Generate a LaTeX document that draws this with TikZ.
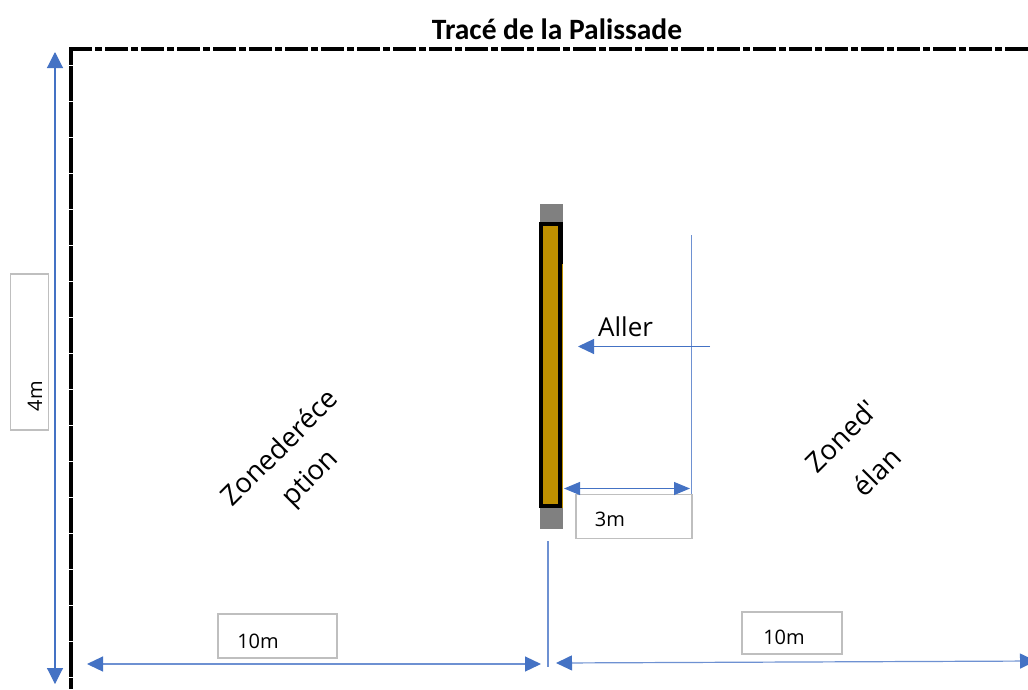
\documentclass[tikz,border=0pt]{standalone}
\usepackage{fontspec}
\setmainfont{Carlito}
\newfontfamily\uifont{Open Sans}
\usetikzlibrary{arrows.meta}
\definecolor{dimblue}{RGB}{68,114,196}
\definecolor{lineblue}{RGB}{110,145,210}
\definecolor{boxgray}{RGB}{191,191,191}
\definecolor{postgray}{RGB}{128,128,128}
\definecolor{palgold}{RGB}{191,144,0}
\tikzset{
  dimline/.style={draw=dimblue,line width=1.1pt,{Triangle[width=13pt,length=16pt]}-{Triangle[width=13pt,length=16pt]}},
  bigdim/.style={draw=lineblue,line width=1.2pt,{Triangle[width=15pt,length=16pt,color=dimblue]}-{Triangle[width=15pt,length=16pt,color=dimblue]}},
  oneway/.style={draw=dimblue,line width=1.1pt,-{Triangle[width=15pt,length=16pt]}},
  guide/.style={draw=lineblue,line width=1.3pt},
  labelbox/.style={draw=boxgray,line width=1.4pt,fill=white,inner sep=0pt},
  labeltext/.style={font=\uifont\fontsize{20}{24}\selectfont,inner sep=0pt},
  palisade/.style={draw=black,line width=4pt,line cap=butt},
  zonetext/.style={rotate=45,align=center,font=\uifont\fontsize{27.5}{42}\selectfont,inner sep=0pt}
}
\begin{document}
\begin{tikzpicture}[x=1pt,y=-1pt]
\useasboundingbox (0,0) rectangle (1028,689);
\fill[white] (0,0) rectangle (1028,689);
% palisade trace
\coordinate (pTR) at (1028,48.7);
\coordinate (pTL) at (69,48.7);
\coordinate (pVT) at (71,47);
\coordinate (pBL) at (71,689);
\draw[palisade,dash pattern=on 35.2pt off 0.8pt,dash phase=17.4pt] (pVT) -- (pBL);
\draw[palisade,line width=3.6pt,dash pattern=on 23pt off 3pt on 7pt off 3pt] (pTL) -- (pTR);
\node[font=\bfseries\fontsize{29.5}{34}\selectfont,inner sep=0pt] (title) at (557,29) {Tracé de la Palissade};
% posts and bar
\node[fill=postgray,minimum width=23pt,minimum height=325pt,inner sep=0pt] (post) at (551.5,366.5) {};
\node[fill=palgold,draw=black,line width=4pt,minimum width=19.5pt,minimum height=282pt,inner sep=0pt,outer sep=0pt] (bar) at (550.25,365) {};
\fill[black] (560,222) rectangle (563,264);
\fill[palgold] (562,264) rectangle (563,508);
% guides
\coordinate (g3T) at (691.5,235);
\coordinate (g3B) at (691.5,494);
\draw[guide] (g3T) -- (g3B);
\coordinate (gmT) at (548,541);
\coordinate (gmB) at (548,667);
\draw[guide] (gmT) -- (gmB);
% Aller
\coordinate (allerS) at (710,346.5);
\coordinate (allerE) at (578,346.5);
\draw[oneway] (allerS) -- (allerE);
\node[font=\uifont\fontsize{26}{30}\selectfont,inner sep=0pt,anchor=west] (aller) at (598,327) {Aller};
% 3m
\node[labelbox,minimum width=116pt,minimum height=44pt] (b3) at (634,516.5) {};
\node[labeltext] (t3) at (610,519) {3m};
\coordinate (d3L) at (564,488.5);
\coordinate (d3R) at (690,488.5);
\draw[dimline] (d3L) -- (d3R);
% 4m
\node[labelbox,minimum width=38pt,minimum height=156pt] (b4) at (29.5,352) {};
\node[rotate=90,labeltext] (t4) at (35,396) {4m};
\coordinate (d4T) at (55,52);
\coordinate (d4B) at (55,684);
\draw[dimline,{Triangle[width=16pt,length=16pt]}-{Triangle[width=16pt,length=16pt]}] (d4T) -- (d4B);
% 10m left
\node[labelbox,minimum width=119pt,minimum height=44pt] (b10l) at (277.5,636) {};
\node[labeltext] (t10l) at (258,641) {10m};
\coordinate (dlL) at (87,664);
\coordinate (dlR) at (541,664);
\draw[bigdim] (dlL) -- (dlR);
% 10m right
\node[labelbox,minimum width=100pt,minimum height=42pt] (b10r) at (792,633) {};
\node[labeltext] (t10r) at (784,637) {10m};
\coordinate (drL) at (556,663);
\coordinate (drR) at (1036,661);
\draw[bigdim] (drL) -- (drR);
% zones
\node[zonetext] (zr) at (296,464) {Zonederéce\\ption};
\node[zonetext] (ze) at (859,454) {Zoned'\\[8pt]élan};
\end{tikzpicture}
\end{document}
